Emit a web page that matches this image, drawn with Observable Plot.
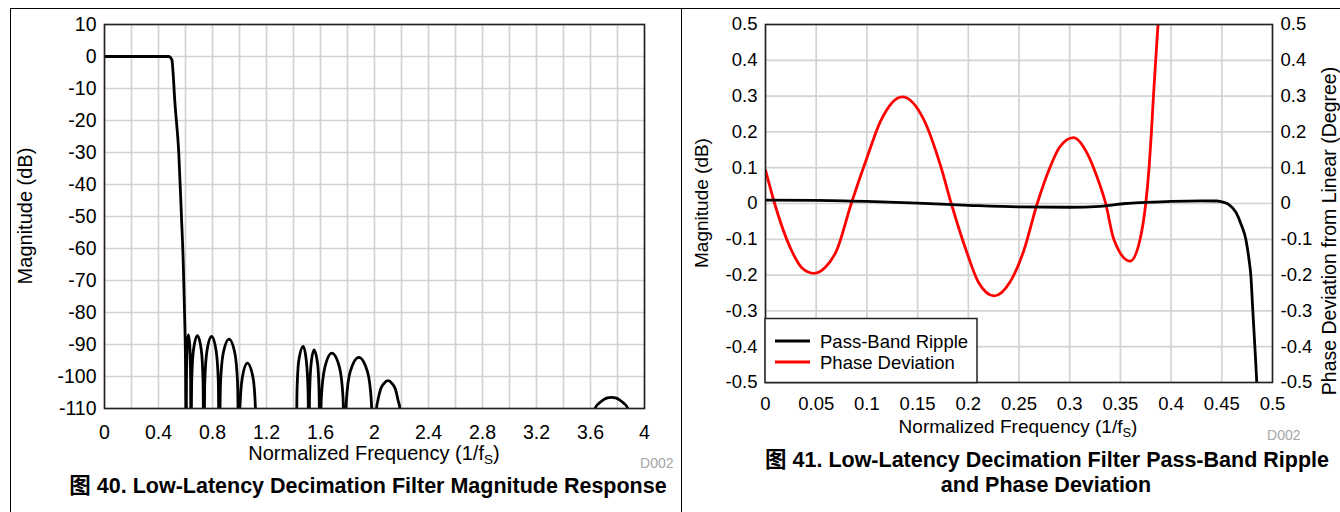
<!DOCTYPE html>
<html>
<head>
<meta charset="utf-8">
<script src="https://cdn.jsdelivr.net/npm/d3@7"></script>
<script src="https://cdn.jsdelivr.net/npm/@observablehq/plot@0.6"></script>
<style>
  html, body { margin: 0; padding: 0; background: #fff; }
  #page { position: relative; width: 1340px; height: 512px; overflow: hidden;
          font-family: "Liberation Sans", Arial, "Noto Sans CJK SC", sans-serif; color: #000; }
  .abs { position: absolute; }
  #leftPanel { left: 10px; top: 8px; width: 672px; height: 520px; box-sizing: border-box;
               border-left: 1px solid #000; border-top: 1px solid #000; border-right: 1px solid #000; }
  #rightPanel { left: 681px; top: 8px; width: 659px; height: 0; border-top: 1px solid #000; }
  #plotL { left: 10px; top: 8px; }
  #plotR { left: 681px; top: 8px; }
  #overlay { left: 0; top: 0; pointer-events: none; }
</style>
</head>
<body>
<div id="page">
  <div id="leftPanel" class="abs"></div>
  <div id="rightPanel" class="abs"></div>
  <div id="plotL" class="abs"></div>
  <div id="plotR" class="abs"></div>
  <svg id="overlay" class="abs" width="1340" height="512"></svg>
</div>
<script>
// ---------- Figure 40: magnitude response (normalized frequency, dB) ----------
const magPassband = [[0,0],[0.2,0],[0.4,0],[0.477,0],[0.49,-0.4],[0.5,-1.2],[0.508,-5],[0.52,-13.5],
  [0.55,-30],[0.57,-50],[0.583,-64],[0.593,-80],[0.6,-96],[0.605,-125]];
const magLobesA = [
  [0.607,-101],[0.612,-91.5],[0.6225,-87],[0.633,-91.5],[0.638,-101],[0.64,-125],
  [0.646,-101.2],[0.659,-91.7],[0.688,-87.2],[0.717,-91.7],[0.730,-101.2],[0.736,-125],
  [0.743,-101.5],[0.759,-92],[0.793,-87.5],[0.827,-92],[0.843,-101.5],[0.85,-125],
  [0.859,-102.3],[0.879,-92.8],[0.9225,-88.3],[0.966,-92.8],[0.986,-102.3],[0.995,-125],
  [1.003,-109.8],[1.021,-100.3],[1.058,-95.8],[1.10,-100.3],[1.118,-109.8],[1.126,-125]];
const magLobesB = [
  [1.42,-125],[1.426,-104.6],[1.439,-95.1],[1.472,-90.6],[1.495,-95.1],[1.508,-104.6],[1.514,-125],
  [1.519,-105.7],[1.53,-96.2],[1.552,-91.7],[1.579,-96.2],[1.59,-105.7],[1.595,-125],
  [1.606,-106.7],[1.632,-97.2],[1.684,-92.7],[1.741,-97.2],[1.767,-106.7],[1.778,-125],
  [1.791,-108],[1.82,-98.5],[1.884,-94],[1.948,-98.5],[1.977,-108],[1.99,-125],
  [2.008,-125],[2.015,-110],[2.025,-107.5],[2.045,-104],[2.07,-102.2],[2.10,-101.3],[2.13,-102.2],
  [2.155,-104],[2.175,-107.5],[2.188,-110],[2.195,-125]];
const magLobesC = [[3.62,-125],[3.633,-110],[3.665,-108.3],[3.695,-107.3],[3.725,-106.7],[3.755,-106.5],
  [3.785,-106.7],[3.815,-107.3],[3.845,-108.3],[3.877,-110],[3.89,-125],[4,-125]];
const magTicksX = [0,0.4,0.8,1.2,1.6,2,2.4,2.8,3.2,3.6,4];
const magGridX = [0,0.2,0.4,0.6,0.8,1,1.2,1.4,1.6,1.8,2,2.2,2.4,2.6,2.8,3,3.2,3.4,3.6,3.8,4];
const magTicksY = [10,0,-10,-20,-30,-40,-50,-60,-70,-80,-90,-100,-110];

// ---------- Figure 41: pass-band ripple (dB) and phase deviation (degree) ----------
const rippleSeries = [[0,0.0095],[0.05,0.009],[0.1,0.006],[0.15,0.001],[0.2,-0.005],[0.25,-0.0095],
  [0.3,-0.0105],[0.33,-0.008],[0.355,0],[0.375,0.003],[0.4,0.006],[0.43,0.0075],[0.445,0.007],
  [0.452,0.003],[0.457,-0.003],[0.464,-0.025],[0.469,-0.058],[0.4737,-0.1],[0.477,-0.16],
  [0.4786,-0.2],[0.4806,-0.3],[0.4826,-0.4],[0.4845,-0.5],[0.486,-0.6]];
const phaseSeries = [[0,0.093],[0.009,0],[0.0258,-0.132],[0.036,-0.18],[0.048,-0.195],[0.059,-0.178],
  [0.07,-0.132],[0.0846,0],[0.1003,0.13],[0.1135,0.23],[0.1349,0.298],[0.156,0.235],[0.1727,0.105],
  [0.1832,0],[0.198,-0.132],[0.21,-0.22],[0.2255,-0.258],[0.241,-0.22],[0.2547,-0.132],[0.268,0],
  [0.28,0.097],[0.29,0.157],[0.3036,0.184],[0.318,0.136],[0.327,0.074],[0.3355,0],[0.3435,-0.1],
  [0.3596,-0.161],[0.3694,-0.1],[0.375,0],[0.3783,0.1],[0.3806,0.2],[0.3826,0.3],[0.3848,0.4],
  [0.3871,0.5],[0.39,0.64]];
const rippleTicksX = [0,0.05,0.1,0.15,0.2,0.25,0.3,0.35,0.4,0.45,0.5];
const rippleTicksY = [0.5,0.4,0.3,0.2,0.1,0,-0.1,-0.2,-0.3,-0.4,-0.5];
const legendItems = ["Pass-Band Ripple", "Phase Deviation"];
const legendColors = ["#000000", "#ff0000"];

const fmt = d => String(+d.toFixed(2));
const gridStyle = {stroke: "#d3d3d3", strokeOpacity: 1, strokeWidth: 1.7};
const font = "'Liberation Sans', Arial, sans-serif";

const magData = [...magPassband, ...magLobesA, ...magLobesB, ...magLobesC].map(([f, db]) => ({f, db}));

const left = Plot.plot({
  width: 671, height: 460,
  marginLeft: 94, marginRight: 37, marginTop: 16, marginBottom: 60,
  style: {fontFamily: font, fontSize: "19.5px", color: "#000", background: "transparent", overflow: "visible"},
  x: {domain: [0, 4]},
  y: {domain: [-110, 10]},
  marks: [
    Plot.gridX({ticks: magGridX, ...gridStyle}),
    Plot.gridY({ticks: magTicksY, ...gridStyle}),
    Plot.line(magData, {x: "f", y: "db", stroke: "#000", strokeWidth: 2.8, curve: "monotone-x", clip: true}),
    Plot.frame({stroke: "#222", strokeWidth: 1.6}),
    Plot.axisX({ticks: magTicksX, tickSize: 0, tickPadding: 17, tickFormat: fmt, label: null}),
    Plot.axisY({ticks: magTicksY, tickSize: 0, tickPadding: 8, tickFormat: fmt, label: null})
  ]
});
document.getElementById("plotL").appendChild(left);

const rippleData = rippleSeries.map(([f, v]) => ({f, v}));
const phaseData = phaseSeries.map(([f, v]) => ({f, v}));

const right = Plot.plot({
  width: 659, height: 440,
  marginLeft: 84, marginRight: 68, marginTop: 16, marginBottom: 66,
  style: {fontFamily: font, fontSize: "18.5px", color: "#000", background: "transparent", overflow: "visible"},
  x: {domain: [0, 0.5]},
  y: {domain: [-0.5, 0.5]},
  marks: [
    Plot.gridX({ticks: rippleTicksX, ...gridStyle}),
    Plot.gridY({ticks: rippleTicksY, ...gridStyle}),
    Plot.line(phaseData, {x: "f", y: "v", stroke: legendColors[1], strokeWidth: 2.8, curve: "monotone-x", clip: true}),
    Plot.line(rippleData, {x: "f", y: "v", stroke: legendColors[0], strokeWidth: 2.8, curve: "monotone-x", clip: true}),
    Plot.frame({stroke: "#222", strokeWidth: 1.6}),
    Plot.axisX({ticks: rippleTicksX, tickSize: 0, tickPadding: 14, tickFormat: fmt, label: null}),
    Plot.axisY({ticks: rippleTicksY, anchor: "left", tickSize: 0, tickPadding: 8, tickFormat: fmt, label: null}),
    Plot.axisY({ticks: rippleTicksY, anchor: "right", tickSize: 0, tickPadding: 8, tickFormat: fmt, label: null})
  ]
});
document.getElementById("plotR").appendChild(right);

// ---------- overlay: axis titles, legend, captions ----------
const ov = d3.select("#overlay").style("font-family", font);
function text(x, y, str, opts = {}) {
  const t = ov.append("text").attr("x", x).attr("y", y).text(str)
    .attr("text-anchor", opts.anchor || "middle")
    .attr("font-size", opts.size || 19)
    .attr("font-weight", opts.weight || "normal")
    .attr("fill", opts.fill || "#000");
  if (opts.rotate) t.attr("x", 0).attr("y", 0).attr("transform", `translate(${x},${y}) rotate(-90)`);
  if (opts.family) t.attr("font-family", opts.family);
  return t;
}
function xTitle(x, y, size) {
  const t = ov.append("text").attr("x", x).attr("y", y).attr("text-anchor", "middle").attr("font-size", size);
  t.append("tspan").text("Normalized Frequency (1/f");
  t.append("tspan").attr("font-size", size * 0.68).attr("dy", 4).text("S");
  t.append("tspan").attr("dy", -4).text(")");
}
// left chart
text(31.5, 216, "Magnitude (dB)", {rotate: true, size: 20});
xTitle(374, 460, 20);
text(673.5, 468, "D002", {anchor: "end", size: 14, fill: "#a6a6a6"});
text(368, 493, "图 40. Low-Latency Decimation Filter Magnitude Response",
  {size: 21.5, weight: "bold", family: "'Liberation Sans', Arial, 'Noto Sans CJK SC', sans-serif"});
// right chart
text(707.5, 203, "Magnitude (dB)", {rotate: true, size: 19});
text(1336, 231, "Phase Deviation from Linear (Degree)", {rotate: true, size: 19.5});
xTitle(1018, 432.5, 19);
text(1300.5, 440, "D002", {anchor: "end", size: 14, fill: "#a6a6a6"});
text(1047, 466.5, "图 41. Low-Latency Decimation Filter Pass-Band Ripple",
  {size: 21.5, weight: "bold", family: "'Liberation Sans', Arial, 'Noto Sans CJK SC', sans-serif"});
text(1046, 492, "and Phase Deviation", {size: 21.5, weight: "bold"});
// legend
ov.append("rect").attr("x", 765).attr("y", 318.5).attr("width", 212).attr("height", 64)
  .attr("fill", "#fff").attr("stroke", "#222").attr("stroke-width", 1.5);
legendItems.forEach((name, i) => {
  const cy = 341 + i * 21;
  ov.append("line").attr("x1", 775).attr("x2", 810).attr("y1", cy).attr("y2", cy)
    .attr("stroke", legendColors[i]).attr("stroke-width", 3);
  text(820, cy + 6.5, name, {anchor: "start", size: 18.5});
});
</script>
</body>
</html>
